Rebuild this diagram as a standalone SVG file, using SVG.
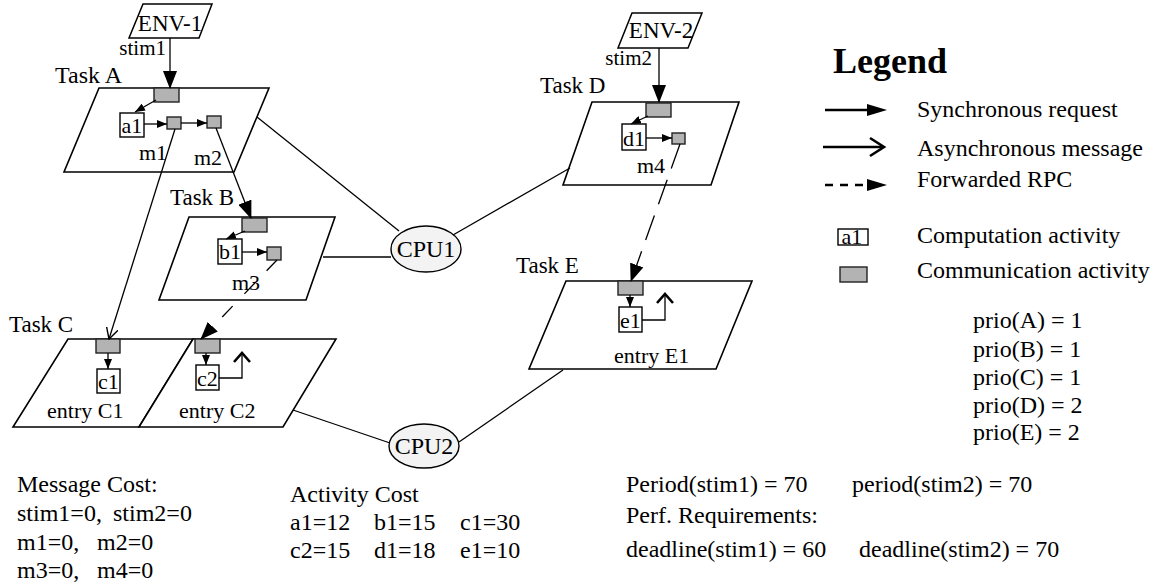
<svg xmlns="http://www.w3.org/2000/svg" width="1153" height="588" viewBox="0 0 1153 588">
<style>
text{font-family:"Liberation Serif","Times New Roman",serif;fill:#000}
.task{fill:#fff;stroke:#000;stroke-width:1.6}
.env{fill:#fff;stroke:#000;stroke-width:1.5}
.comm{fill:#b3b3b3;stroke:#222;stroke-width:1.4}
.comp{fill:#fff;stroke:#000;stroke-width:1.4}
.cpu{fill:#f3f3f3;stroke:#000;stroke-width:1.4}
.ln{stroke:#000;stroke-width:1.3;fill:none}
.dashB{stroke-dasharray:15 17}
.dashD{stroke-dasharray:26 12}
.chev{stroke:#000;stroke-width:2.6;fill:none}
.lg{stroke:#000;stroke-width:2.6;fill:none}
.t23{font-size:23px}
.t22{font-size:22px}
.t21{font-size:21px}
.t24{font-size:24px}
.mid{text-anchor:middle}
</style>
<defs>
<marker id="big" viewBox="0 0 18 14" refX="17" refY="7" markerWidth="18" markerHeight="14" markerUnits="userSpaceOnUse" orient="auto"><path d="M0,0 L18,7 L0,14 z" fill="#000"/></marker>
<marker id="small" viewBox="0 0 10 8" refX="10" refY="4" markerWidth="10" markerHeight="8" markerUnits="userSpaceOnUse" orient="auto"><path d="M0,0 L10,4 L0,8 z" fill="#000"/></marker>
<marker id="open" viewBox="0 0 12 12" refX="11" refY="6" markerWidth="12" markerHeight="12" markerUnits="userSpaceOnUse" orient="auto"><path d="M0,0 L11,6 L0,12" fill="none" stroke="#000" stroke-width="1.4"/></marker>
</defs>

<g id="env1">
<polygon class="env" points="143,4 212,4 199,38 129,38"/>
<text class="t23 mid" x="170" y="31">ENV-1</text>
</g>
<g id="env2">
<polygon class="env" points="632,13 702,13 688,48 618,48"/>
<text class="t23 mid" x="661" y="38">ENV-2</text>
</g>

<g id="taskA">
<polygon class="task" points="99,88 269,88 234,172 64,172"/>
<text class="t24" x="55" y="83">Task A</text>
<rect class="comm" x="154" y="88" width="25" height="14"/>
<rect class="comp" x="120" y="113" width="24" height="24"/>
<text class="t22 mid" x="132" y="133">a1</text>
<rect class="comm" x="167" y="117" width="14" height="12"/>
<rect class="comm" x="207" y="116" width="14" height="12"/>
<text class="t22" x="139" y="160">m1</text>
<text class="t22" x="194" y="165">m2</text>
</g>

<g id="taskB">
<polygon class="task" points="189,217 335,217 306,300 159,300"/>
<text class="t23" x="170" y="205">Task B</text>
<rect class="comm" x="242" y="218" width="25" height="14"/>
<rect class="comp" x="218" y="239" width="24" height="25"/>
<text class="t22 mid" x="230" y="259">b1</text>
<rect class="comm" x="267" y="247" width="14" height="13"/>
<text class="t22" x="232" y="290">m3</text>
</g>

<g id="taskC">
<polygon class="task" points="68,339 193,339 139,427 13,427"/>
<polygon class="task" points="193,339 336,339 283,427 139,427"/>
<text class="t23" x="9" y="332">Task C</text>
<rect class="comm" x="96" y="339" width="24" height="14"/>
<rect class="comp" x="97" y="369" width="23" height="24"/>
<text class="t22 mid" x="108.5" y="389">c1</text>
<rect class="comm" x="195" y="339" width="25" height="14"/>
<rect class="comp" x="196" y="365" width="23" height="25"/>
<text class="t22 mid" x="207.5" y="386">c2</text>
<text class="t22" x="47" y="418">entry C1</text>
<text class="t22" x="179" y="418">entry C2</text>
</g>

<g id="taskD">
<polygon class="task" points="592,102 739,102 711,185 563,185"/>
<text class="t23" x="540" y="93">Task D</text>
<rect class="comm" x="646" y="103" width="25" height="14"/>
<rect class="comp" x="622" y="124" width="24" height="26"/>
<text class="t22 mid" x="634" y="146">d1</text>
<rect class="comm" x="672" y="133" width="13" height="11"/>
<text class="t22" x="637" y="173">m4</text>
</g>

<g id="taskE">
<polygon class="task" points="566,281 752,281 716,369 529,369"/>
<text class="t23" x="516" y="273">Task E</text>
<rect class="comm" x="618" y="281" width="25" height="14"/>
<rect class="comp" x="619" y="307" width="23" height="25"/>
<text class="t22 mid" x="630.5" y="328">e1</text>
<text class="t22" x="614" y="363">entry E1</text>
</g>

<g id="cpu1">
<ellipse class="cpu" cx="426" cy="249" rx="35" ry="23"/>
<text class="t24 mid" x="426" y="257">CPU1</text>
</g>
<g id="cpu2">
<ellipse class="cpu" cx="424" cy="446" rx="35" ry="22"/>
<text class="t24 mid" x="424" y="454">CPU2</text>
</g>

<g id="connectors">
<line class="ln" x1="170" y1="38" x2="170" y2="88" marker-end="url(#big)"/>
<text class="t21" x="166" y="55" text-anchor="end">stim1</text>
<line class="ln" x1="659" y1="48" x2="659" y2="102" marker-end="url(#big)"/>
<text class="t21" x="652" y="65" text-anchor="end">stim2</text>
<line class="ln" x1="156" y1="100" x2="135" y2="112" marker-end="url(#small)"/>
<line class="ln" x1="144" y1="124" x2="167" y2="124" marker-end="url(#small)"/>
<line class="ln" x1="181" y1="123" x2="207" y2="123" marker-end="url(#small)"/>
<line class="ln" x1="175" y1="129" x2="109" y2="339" marker-end="url(#open)"/>
<line class="ln" x1="216" y1="128" x2="251" y2="218" marker-end="url(#big)"/>
<line class="ln" x1="245" y1="231" x2="226" y2="239" marker-end="url(#small)"/>
<line class="ln" x1="242" y1="252" x2="267" y2="252" marker-end="url(#small)"/>
<line class="ln dashB" x1="277" y1="260" x2="201" y2="339" marker-end="url(#big)"/>
<line class="ln" x1="108" y1="353" x2="108" y2="369" marker-end="url(#small)"/>
<line class="ln" x1="206" y1="353" x2="206" y2="365" marker-end="url(#small)"/>
<polyline class="ln" points="219,378 242,378 242,355"/>
<polyline class="chev" points="234,362 242,353 250,362"/>
<line class="ln" x1="648" y1="116" x2="631" y2="124" marker-end="url(#small)"/>
<line class="ln" x1="646" y1="138" x2="672" y2="138" marker-end="url(#small)"/>
<line class="ln dashD" x1="680" y1="144" x2="631" y2="281" marker-end="url(#big)"/>
<line class="ln" x1="630" y1="295" x2="630" y2="307" marker-end="url(#small)"/>
<polyline class="ln" points="642,320 665,320 665,296"/>
<polyline class="chev" points="657,303 665,294 673,303"/>
<line class="ln" x1="257" y1="117" x2="399" y2="231"/>
<line class="ln" x1="323" y1="257" x2="391" y2="257"/>
<line class="ln" x1="453" y1="235" x2="570" y2="168"/>
<line class="ln" x1="293" y1="410" x2="390" y2="443"/>
<line class="ln" x1="459" y1="442" x2="563" y2="370"/>
</g>

<g id="legend">
<text x="833" y="73" font-size="36" font-weight="bold">Legend</text>
<line class="lg" x1="825" y1="110" x2="870" y2="110"/>
<path d="M867,104 L887,110 L867,116 z" fill="#000"/>
<text class="t24" x="917" y="117">Synchronous request</text>
<line class="lg" x1="823" y1="147" x2="883" y2="147"/>
<polyline class="lg" points="870,138 884,147 870,156"/>
<text class="t24" x="917" y="156">Asynchronous message</text>
<line class="lg" x1="825" y1="185" x2="868" y2="185" stroke-dasharray="8 7"/>
<path d="M867,179 L887,185 L867,191 z" fill="#000"/>
<text class="t24" x="917" y="187">Forwarded RPC</text>
<rect class="comp" x="838" y="229" width="30" height="16"/>
<text x="852" y="244" font-size="22" class="mid">a1</text>
<text class="t24" x="917" y="243">Computation activity</text>
<rect class="comm" x="840" y="267" width="27" height="15"/>
<text class="t24" x="917" y="278">Communication activity</text>
</g>

<g id="priorities">
<text class="t24" x="973" y="328">prio(A) = 1</text>
<text class="t24" x="973" y="357">prio(B) = 1</text>
<text class="t24" x="973" y="385">prio(C) = 1</text>
<text class="t24" x="973" y="413">prio(D) = 2</text>
<text class="t24" x="973" y="440">prio(E) = 2</text>
</g>

<g id="message-cost">
<text class="t24" x="17" y="492">Message Cost:</text>
<text class="t24" y="521"><tspan x="17">stim1=0,</tspan><tspan x="113">stim2=0</tspan></text>
<text class="t24" y="550"><tspan x="17">m1=0,</tspan><tspan x="97">m2=0</tspan></text>
<text class="t24" y="578"><tspan x="17">m3=0,</tspan><tspan x="97">m4=0</tspan></text>
</g>

<g id="activity-cost">
<text class="t24" x="290" y="502">Activity Cost</text>
<text class="t24" y="530"><tspan x="290">a1=12</tspan><tspan x="374">b1=15</tspan><tspan x="460">c1=30</tspan></text>
<text class="t24" y="558"><tspan x="290">c2=15</tspan><tspan x="374">d1=18</tspan><tspan x="460">e1=10</tspan></text>
</g>

<g id="requirements">
<text class="t24" x="626" y="492">Period(stim1) = 70</text>
<text class="t24" x="852" y="492">period(stim2) = 70</text>
<text class="t24" x="626" y="523">Perf. Requirements:</text>
<text class="t24" x="626" y="557">deadline(stim1) = 60</text>
<text class="t24" x="859" y="557">deadline(stim2) = 70</text>
</g>
</svg>
